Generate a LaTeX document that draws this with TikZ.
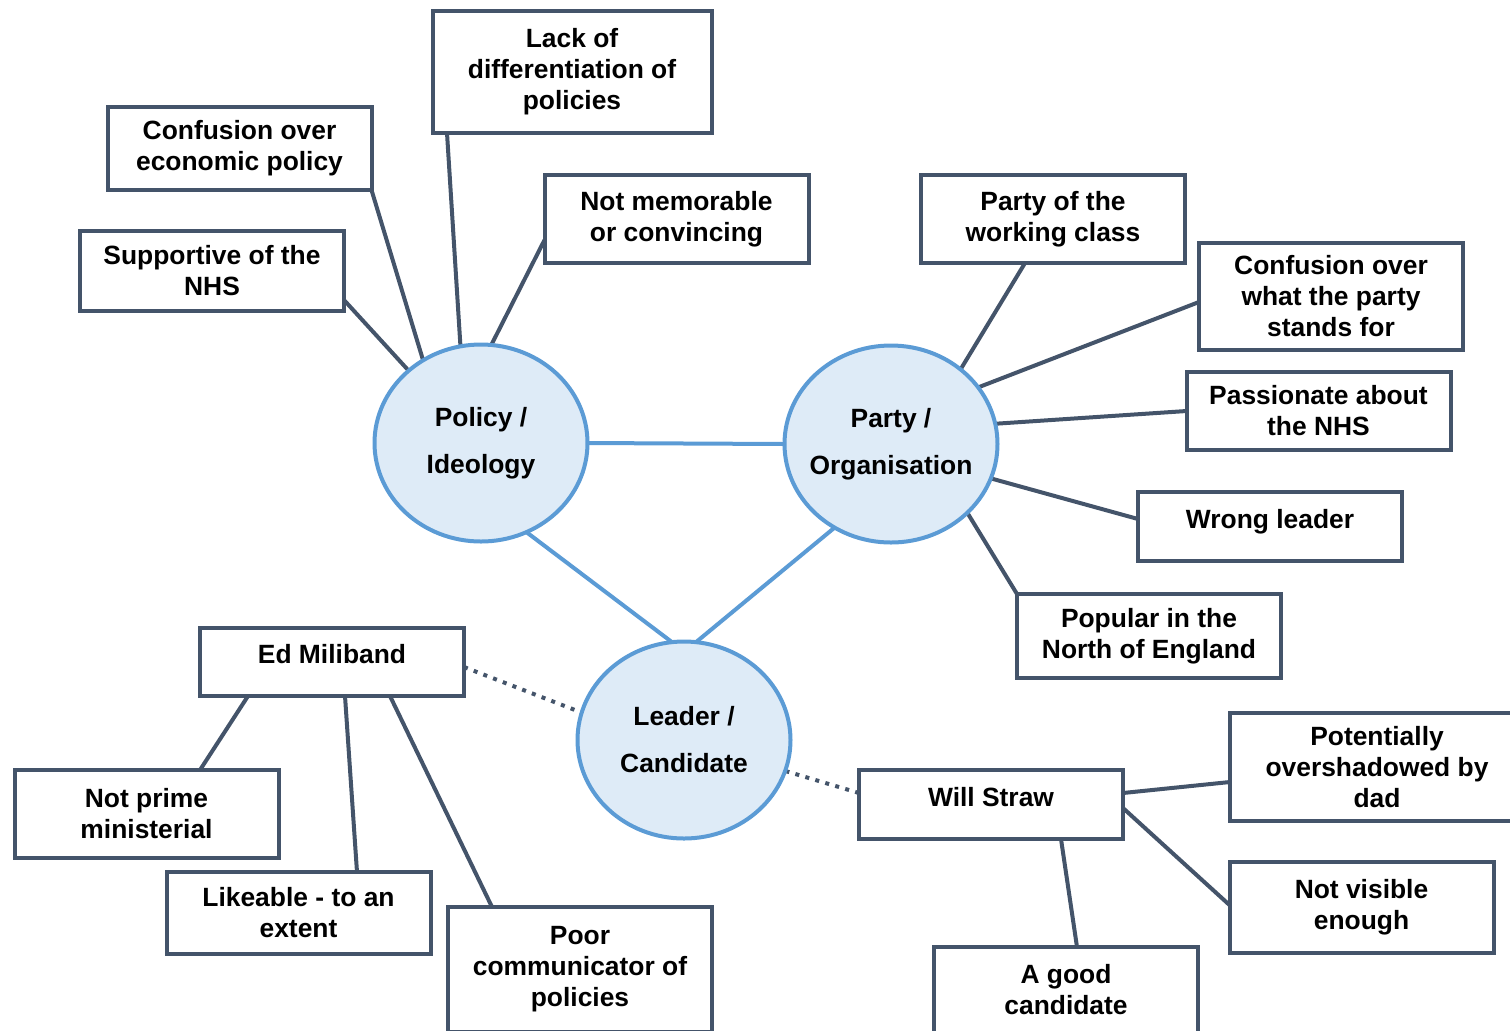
\documentclass[tikz,border=0pt]{standalone}
\usepackage{fontspec}
\setmainfont{Liberation Sans}
\usetikzlibrary{shapes.geometric,backgrounds}
\definecolor{slate}{HTML}{44546A}
\definecolor{hubfill}{HTML}{DEEBF7}
\definecolor{hubline}{HTML}{5B9BD5}
\tikzset{
  box/.style={draw=slate, line width=2pt, fill=white, align=center,
    minimum width=132pt, inner sep=2pt, outer sep=0pt,
    font=\bfseries\fontsize{13.2pt}{15.5pt}\selectfont},
  oneline/.style={text depth=8pt},
  hub/.style={ellipse, draw=hubline, fill=hubfill, line width=2pt,
    minimum width=106.5pt, minimum height=98.5pt, outer sep=0pt,
    inner xsep=-6pt, inner ysep=0pt, align=center,
    font=\bfseries\fontsize{13.2pt}{23.5pt}\selectfont},
  spoke/.style={draw=slate, line width=2pt},
  hublink/.style={draw=hubline, line width=2pt},
  dotlink/.style={draw=slate, line width=2pt, dash pattern=on 2pt off 3.2pt}
}
\begin{document}
\begin{tikzpicture}[x=0.5pt, y=-0.5pt]
\useasboundingbox (0,0) rectangle (1510,1030);

% central themes
\node[hub] (pol)  at (481,443) {Policy /\\Ideology};
\node[hub] (par)  at (891,444) {Party /\\Organisation};
\node[hub] (lead) at (684,740) {Leader /\\Candidate};

% policy / ideology
\node[box, minimum width=139.5pt, minimum height=61pt] (lack) at (572,72) {Lack of\\differentiation of\\policies};
\node[box, minimum height=41.5pt] (econ) at (239.5,148.5) {Confusion over\\economic policy};
\node[box, minimum height=40pt] (sup) at (212,271) {Supportive of the\\NHS};
\node[box, minimum height=44pt] (mem) at (676.5,219) {Not memorable\\or convincing};

% party / organisation
\node[box, minimum height=44pt] (work) at (1053,219) {Party of the\\working class};
\node[box, minimum height=53.5pt] (what) at (1331,296.5) {Confusion over\\what the party\\stands for};
\node[box, minimum height=39pt] (pass) at (1318.5,411) {Passionate about\\the NHS};
\node[box, oneline, minimum height=34.5pt] (wrong) at (1270,526.5) {Wrong leader};
\node[box, minimum height=42pt] (north) at (1149,636) {Popular in the\\North of England};

% leader / candidate
\node[box, oneline, minimum height=34pt] (ed) at (332,662) {Ed Miliband};
\node[box, minimum height=44pt] (prime) at (146.5,814) {Not prime\\ministerial};
\node[box, minimum height=41pt] (like) at (298.5,913) {Likeable - to an\\extent};
\node[box, minimum height=62.5pt] (poor) at (580,969.5) {Poor\\communicator of\\policies};
\node[box, oneline, minimum height=34.5pt] (will) at (991,804.5) {Will Straw};
\node[box, minimum width=147pt, minimum height=54pt] (dad) at (1377,767) {Potentially\\overshadowed by\\dad};
\node[box, minimum height=45.5pt] (vis) at (1361.5,907.5) {Not visible\\enough};
\node[box, minimum height=43pt] (good) at (1066,990) {A good\\candidate};

\begin{scope}[on background layer]
  % links between the themes
  \draw[hublink] (pol.0) -- (par.180);
  \draw[hublink] (pol.297) -- (lead.97);
  \draw[hublink] (par.236) -- (lead.83);

  % policy spokes
  \draw[spoke] ([yshift=-14.5pt]sup.east) -- (pol.135);
  \draw[spoke] (econ.south east) -- (pol.125);
  \draw[spoke] ([xshift=-62.5pt]lack.south) -- (pol.102);
  \draw[spoke] ([yshift=-10.5pt]mem.west) -- (pol.84);

  % party spokes
  \draw[spoke] ([xshift=-14pt]work.south) -- (par.47);
  \draw[spoke] ([yshift=-2.75pt]what.west) -- (par.33);
  \draw[spoke] (pass.west) -- (par.11);
  \draw[spoke] ([yshift=3.75pt]wrong.west) -- (par.341);
  \draw[spoke] (north.north west) -- (par.318.5);

  % candidates
  \draw[dotlink] ([yshift=-2.5pt]ed.east) -- (lead.165.7);
  \draw[dotlink] ([yshift=5.75pt]will.west) -- (lead.343.5);

  \draw[spoke] ([xshift=-42pt]ed.south) -- ([xshift=26.75pt]prime.north);
  \draw[spoke] ([xshift=6.5pt]ed.south) -- ([xshift=29.25pt]like.north);
  \draw[spoke] ([xshift=29pt]ed.south) -- ([xshift=-44pt]poor.north);

  \draw[spoke] ([yshift=5.75pt]will.east) -- ([yshift=-7.5pt]dad.west);
  \draw[spoke] ([yshift=-1.75pt]will.east) -- ([yshift=1.25pt]vis.west);
  \draw[spoke] ([xshift=35pt]will.south) -- ([xshift=5.5pt]good.north);
\end{scope}
\end{tikzpicture}
\end{document}
